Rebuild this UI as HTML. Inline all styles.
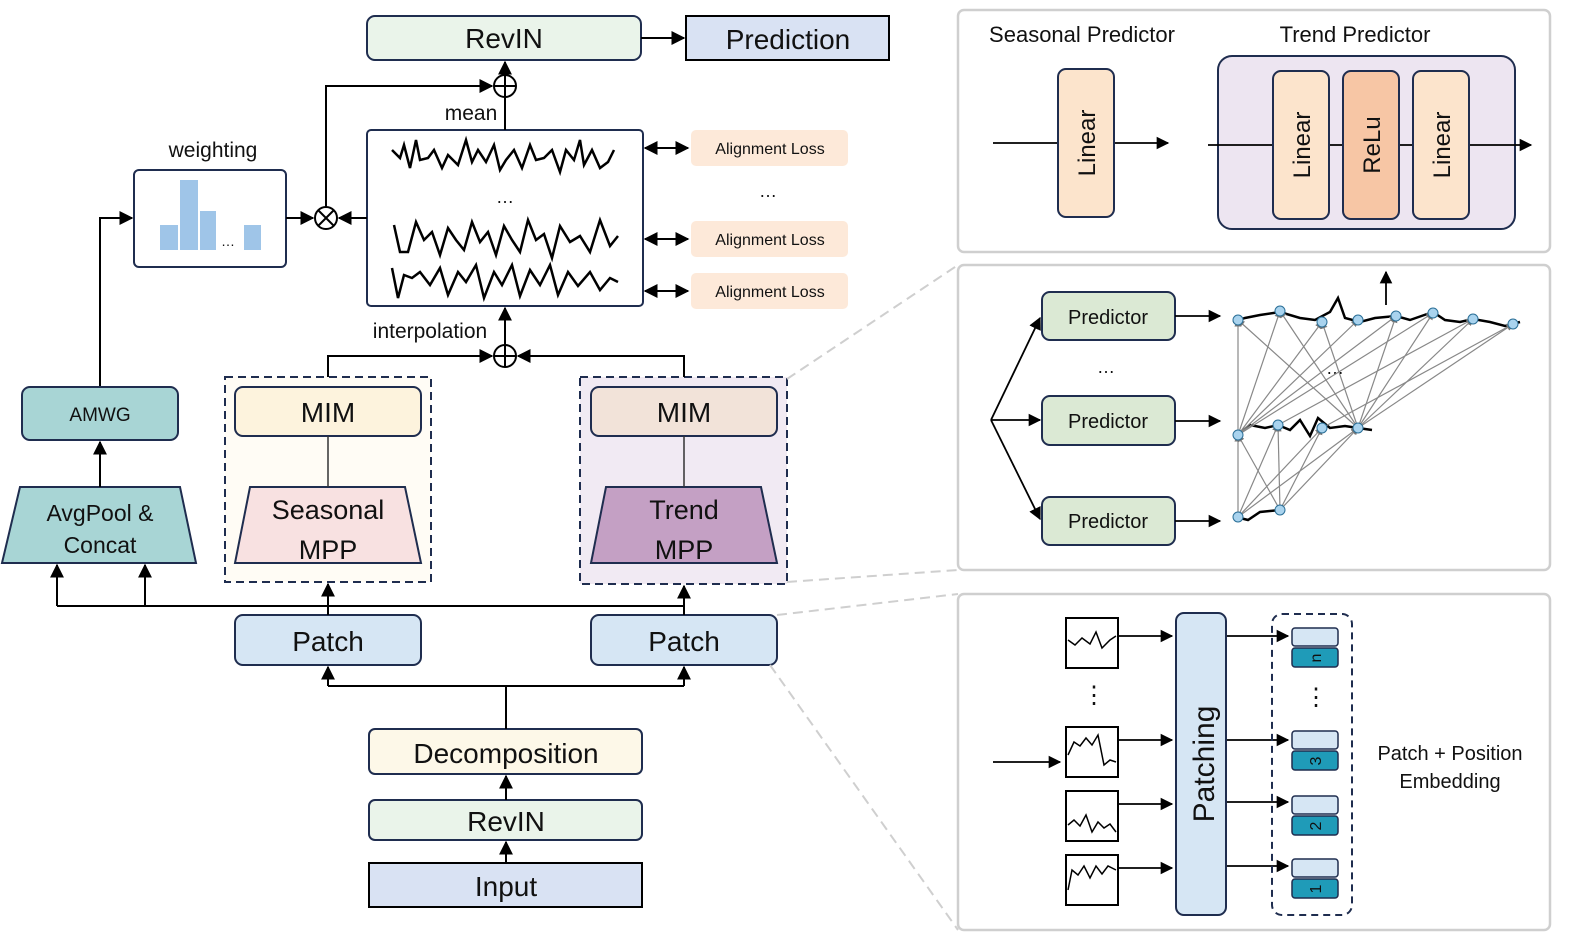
<!DOCTYPE html>
<html><head><meta charset="utf-8"><style>body{margin:0;background:#fff}svg{display:block}text{font-family:"Liberation Sans",sans-serif;fill:#111}</style></head><body>
<svg width="1578" height="949" viewBox="0 0 1578 949" xmlns="http://www.w3.org/2000/svg">
<defs>
<marker id="a" viewBox="0 0 10 10" refX="9" refY="5" markerWidth="7" markerHeight="7" orient="auto-start-reverse"><path d="M0,0L10,5L0,10z" fill="#000"/></marker>
<marker id="g" viewBox="0 0 10 10" refX="9" refY="5" markerWidth="6" markerHeight="6" orient="auto"><path d="M0,0L10,5L0,10z" fill="#777"/></marker>
</defs>
<g stroke="#1f2d4f" stroke-width="2">
<rect x="367" y="16" width="274" height="44" rx="8" fill="#eaf4ea"/>
<rect x="686" y="16" width="203" height="44" fill="#d9e2f3" stroke="#000"/>
<rect x="367" y="130" width="276" height="176" rx="4" fill="#fff"/>
<rect x="134" y="170" width="152" height="97" rx="5" fill="#fff"/>
<rect x="22" y="387" width="156" height="53" rx="8" fill="#a8d5d5"/>
<polygon points="20,487 180,487 196,563 2,563" fill="#a8d5d5"/>
<rect x="225" y="377" width="206" height="205" fill="#fffcf5" stroke-dasharray="8,5"/>
<rect x="580" y="377" width="207" height="207" fill="#f1eaf3" stroke-dasharray="8,5"/>
<rect x="235" y="387" width="186" height="49" rx="8" fill="#fdf3dd"/>
<rect x="591" y="387" width="186" height="49" rx="8" fill="#f2e3d9"/>
<polygon points="250,487 405,487 421,563 235,563" fill="#f8e1e1"/>
<polygon points="606,487 761,487 777,563 591,563" fill="#c4a0c4"/>
<rect x="235" y="615" width="186" height="50" rx="8" fill="#d6e6f4"/>
<rect x="591" y="615" width="186" height="50" rx="8" fill="#d6e6f4"/>
<rect x="369" y="729" width="273" height="45" rx="6" fill="#fdf8e8"/>
<rect x="369" y="800" width="273" height="40" rx="6" fill="#eaf4ea"/>
<rect x="369" y="863" width="273" height="44" fill="#d9e2f3" stroke="#000"/>
</g>
<g fill="#fde9d9"><rect x="691" y="130" width="157" height="36" rx="5"/><rect x="691" y="221" width="157" height="36" rx="5"/><rect x="691" y="273" width="157" height="36" rx="5"/></g>
<g fill="#9fc5e8"><rect x="160" y="225" width="18" height="25"/><rect x="180" y="180" width="18" height="70"/><rect x="200" y="211" width="16" height="39"/><rect x="244" y="225" width="17" height="25"/></g>
<g stroke="#000" stroke-width="2" fill="none">
<line x1="641" y1="38" x2="684" y2="38" marker-end="url(#a)"/>
<line x1="505" y1="130" x2="505" y2="97"/><line x1="505" y1="75" x2="505" y2="62" marker-end="url(#a)"/>
<polyline points="326,207 326,86 492,86" marker-end="url(#a)"/>
<circle cx="505" cy="86" r="11" fill="#fff"/><path d="M494,86H516M505,75V97"/>
<circle cx="326" cy="218" r="11" fill="#fff"/><path d="M318,210L334,226M334,210L318,226"/>
<line x1="286" y1="218" x2="313" y2="218" marker-end="url(#a)"/>
<line x1="367" y1="218" x2="339" y2="218" marker-end="url(#a)"/>
<polyline points="100,386 100,218 132,218" marker-end="url(#a)"/>
<line x1="100" y1="487" x2="100" y2="442" marker-end="url(#a)"/>
<line x1="645" y1="148" x2="688" y2="148" marker-start="url(#a)" marker-end="url(#a)"/>
<line x1="645" y1="239" x2="688" y2="239" marker-start="url(#a)" marker-end="url(#a)"/>
<line x1="645" y1="291" x2="688" y2="291" marker-start="url(#a)" marker-end="url(#a)"/>
<line x1="328" y1="436" x2="328" y2="487" stroke="#333" stroke-width="1.5"/>
<line x1="684" y1="436" x2="684" y2="487" stroke="#333" stroke-width="1.5"/>
<polyline points="328,377 328,356 492,356" marker-end="url(#a)"/>
<polyline points="684,377 684,356 518,356" marker-end="url(#a)"/>
<circle cx="505" cy="356" r="11" fill="#fff"/><path d="M494,356H516M505,345V367"/>
<line x1="505" y1="345" x2="505" y2="308" marker-end="url(#a)"/>
<line x1="57" y1="606" x2="684" y2="606"/>
<line x1="57" y1="606" x2="57" y2="565" marker-end="url(#a)"/>
<line x1="145" y1="606" x2="145" y2="565" marker-end="url(#a)"/>
<line x1="328" y1="615" x2="328" y2="584" marker-end="url(#a)"/>
<line x1="684" y1="615" x2="684" y2="586" marker-end="url(#a)"/>
<line x1="506" y1="729" x2="506" y2="686"/>
<polyline points="328,686 684,686"/>
<line x1="328" y1="686" x2="328" y2="667" marker-end="url(#a)"/>
<line x1="684" y1="686" x2="684" y2="667" marker-end="url(#a)"/>
<line x1="506" y1="800" x2="506" y2="776" marker-end="url(#a)"/>
<line x1="506" y1="863" x2="506" y2="842" marker-end="url(#a)"/>
<g stroke-width="2.5">
<polyline points="392,150 400,158 404,145 410,168 416,140 420,160 428,158 434,150 442,168 448,155 458,165 466,140 472,162 478,150 486,162 494,145 500,170 506,160 514,150 522,168 530,145 536,160 544,158 552,150 560,172 566,150 574,160 580,140 584,165 592,150 600,168 608,162 614,150"/>
<polyline points="394,225 400,252 408,252 416,222 424,240 432,232 440,255 448,228 456,240 464,250 472,222 480,242 488,232 496,255 504,226 512,240 520,252 528,220 536,240 544,234 552,258 560,226 570,242 580,236 590,252 600,220 610,246 618,236"/>
<polyline points="392,268 398,298 404,275 412,278 420,272 430,285 440,268 448,295 458,272 466,282 476,265 484,298 494,272 502,285 512,265 520,296 530,270 540,285 550,265 558,295 568,272 578,286 590,272 600,290 610,278 618,282"/>
</g>
</g>
<g font-size="28" text-anchor="middle">
<text x="504" y="48">RevIN</text><text x="788" y="49">Prediction</text>
<text x="328" y="422">MIM</text><text x="684" y="422">MIM</text>
<text x="328" y="519" font-size="27">Seasonal</text><text x="328" y="559" font-size="27">MPP</text>
<text x="684" y="519" font-size="27">Trend</text><text x="684" y="559" font-size="27">MPP</text>
<text x="328" y="651">Patch</text><text x="684" y="651">Patch</text>
<text x="506" y="763">Decomposition</text><text x="506" y="831">RevIN</text><text x="506" y="896">Input</text>
<text x="100" y="521" font-size="23">AvgPool &amp;</text><text x="100" y="553" font-size="23">Concat</text>
<text x="100" y="421" font-size="19">AMWG</text>
<text x="213" y="157" font-size="21">weighting</text>
<text x="471" y="120" font-size="21">mean</text>
<text x="430" y="338" font-size="21">interpolation</text>
<text x="770" y="154" font-size="16">Alignment Loss</text><text x="770" y="245" font-size="16">Alignment Loss</text><text x="770" y="297" font-size="16">Alignment Loss</text>
<text x="768" y="197" font-size="18">…</text><text x="505" y="203" font-size="18">…</text><text x="228" y="246" font-size="14">…</text>
</g>
<!-- right panels -->
<g stroke="#cfcfcf" stroke-width="2.5" fill="none">
<rect x="958" y="10" width="592" height="242" rx="6"/>
<rect x="958" y="265" width="592" height="305" rx="6"/>
<rect x="958" y="594" width="592" height="336" rx="6"/>
<g stroke-dasharray="10,6" stroke-width="2"><line x1="787" y1="379" x2="958" y2="265"/><line x1="787" y1="582" x2="958" y2="570"/><line x1="777" y1="615" x2="958" y2="594"/><line x1="770" y1="665" x2="958" y2="930"/></g>
</g>
<g font-size="22" text-anchor="middle"><text x="1082" y="42">Seasonal Predictor</text><text x="1355" y="42">Trend Predictor</text></g>
<rect x="1218" y="56" width="297" height="173" rx="14" fill="#ede5f1" stroke="#1f2d4f" stroke-width="2"/>
<g stroke="#000" stroke-width="1.8" fill="none"><line x1="993" y1="143" x2="1168" y2="143" marker-end="url(#a)"/><line x1="1208" y1="145" x2="1531" y2="145" marker-end="url(#a)"/></g>
<g stroke="#1f2d4f" stroke-width="2"><rect x="1058" y="69" width="56" height="148" rx="8" fill="#fce4cc"/><rect x="1273" y="71" width="56" height="148" rx="8" fill="#fce4cc"/><rect x="1343" y="71" width="56" height="148" rx="8" fill="#f7c6a5"/><rect x="1413" y="71" width="56" height="148" rx="8" fill="#fce4cc"/></g>
<g font-size="24" text-anchor="middle"><text transform="translate(1095,143) rotate(-90)">Linear</text><text transform="translate(1310,145) rotate(-90)">Linear</text><text transform="translate(1380,145) rotate(-90)">ReLu</text><text transform="translate(1450,145) rotate(-90)">Linear</text></g>
<g stroke="#1f2d4f" stroke-width="2" fill="#dbe9d4"><rect x="1042" y="292" width="133" height="48" rx="8"/><rect x="1042" y="396" width="133" height="49" rx="8"/><rect x="1042" y="497" width="133" height="48" rx="8"/></g>
<g font-size="20" text-anchor="middle"><text x="1108" y="324">Predictor</text><text x="1108" y="428">Predictor</text><text x="1108" y="528">Predictor</text><text x="1106" y="373" font-size="18">…</text><text x="1335" y="374" font-size="18">…</text></g>
<g stroke="#000" stroke-width="1.8" fill="none">
<line x1="991" y1="420" x2="1040" y2="318" marker-end="url(#a)"/><line x1="991" y1="420" x2="1040" y2="420" marker-end="url(#a)"/><line x1="991" y1="420" x2="1040" y2="519" marker-end="url(#a)"/>
<line x1="1175" y1="316" x2="1220" y2="316" marker-end="url(#a)"/><line x1="1175" y1="421" x2="1220" y2="421" marker-end="url(#a)"/><line x1="1175" y1="521" x2="1220" y2="521" marker-end="url(#a)"/>
<line x1="1386" y1="305" x2="1386" y2="272" marker-end="url(#a)"/>
<g stroke-width="2.5"><polyline points="1233,322 1245,318 1260,315 1280,312 1300,318 1315,320 1330,312 1338,298 1345,318 1360,322 1375,318 1396,316 1410,320 1433,312 1445,320 1460,322 1473,319 1490,322 1505,326 1520,322"/>
<polyline points="1236,436 1250,425 1265,428 1278,425 1290,430 1300,420 1310,436 1318,418 1330,428 1345,426 1358,428 1372,430"/>
<polyline points="1236,517 1248,520 1260,512 1280,510"/></g>
</g>
<g stroke="#888" stroke-width="1.2">
<line x1="1238" y1="435" x2="1238" y2="320" marker-end="url(#g)"/><line x1="1238" y1="435" x2="1280" y2="311" marker-end="url(#g)"/><line x1="1238" y1="435" x2="1322" y2="322" marker-end="url(#g)"/><line x1="1238" y1="435" x2="1358" y2="320" marker-end="url(#g)"/><line x1="1238" y1="435" x2="1396" y2="316" marker-end="url(#g)"/><line x1="1238" y1="435" x2="1433" y2="313" marker-end="url(#g)"/>
<line x1="1358" y1="428" x2="1238" y2="320" marker-end="url(#g)"/><line x1="1358" y1="428" x2="1280" y2="311" marker-end="url(#g)"/><line x1="1358" y1="428" x2="1322" y2="322" marker-end="url(#g)"/><line x1="1358" y1="428" x2="1396" y2="316" marker-end="url(#g)"/><line x1="1358" y1="428" x2="1433" y2="313" marker-end="url(#g)"/><line x1="1358" y1="428" x2="1473" y2="319" marker-end="url(#g)"/><line x1="1358" y1="428" x2="1513" y2="324" marker-end="url(#g)"/>
<line x1="1278" y1="425" x2="1473" y2="319" marker-end="url(#g)"/><line x1="1322" y1="428" x2="1513" y2="324" marker-end="url(#g)"/>
<line x1="1238" y1="517" x2="1238" y2="435" marker-end="url(#g)"/><line x1="1238" y1="517" x2="1278" y2="425" marker-end="url(#g)"/><line x1="1238" y1="517" x2="1322" y2="428" marker-end="url(#g)"/><line x1="1238" y1="517" x2="1358" y2="428" marker-end="url(#g)"/>
<line x1="1280" y1="510" x2="1238" y2="435" marker-end="url(#g)"/><line x1="1280" y1="510" x2="1278" y2="425" marker-end="url(#g)"/><line x1="1280" y1="510" x2="1322" y2="428" marker-end="url(#g)"/><line x1="1280" y1="510" x2="1358" y2="428" marker-end="url(#g)"/>
</g>
<g fill="#a9d3ee" stroke="#2a6f97" stroke-width="1"><circle cx="1238" cy="320" r="5"/><circle cx="1280" cy="311" r="5"/><circle cx="1322" cy="322" r="5"/><circle cx="1358" cy="320" r="5"/><circle cx="1396" cy="316" r="5"/><circle cx="1433" cy="313" r="5"/><circle cx="1473" cy="319" r="5"/><circle cx="1513" cy="324" r="5"/><circle cx="1238" cy="435" r="5"/><circle cx="1278" cy="425" r="5"/><circle cx="1322" cy="428" r="5"/><circle cx="1358" cy="428" r="5"/><circle cx="1238" cy="517" r="5"/><circle cx="1280" cy="510" r="5"/></g>
<!-- panel 3 -->
<g stroke="#000" stroke-width="2" fill="#fff"><rect x="1066" y="618" width="52" height="50"/><rect x="1066" y="727" width="52" height="50"/><rect x="1066" y="791" width="52" height="50"/><rect x="1066" y="855" width="52" height="50"/></g>
<g stroke="#000" stroke-width="1.5" fill="none">
<polyline points="1068,640 1075,645 1082,638 1090,644 1096,632 1102,648 1110,640 1116,636"/>
<polyline points="1068,755 1074,742 1080,746 1086,738 1092,745 1098,735 1104,765 1110,760 1116,762"/>
<polyline points="1068,825 1074,820 1080,826 1086,815 1092,832 1098,822 1104,828 1110,824 1116,832"/>
<polyline points="1068,890 1072,870 1078,875 1084,866 1090,878 1096,866 1102,874 1108,866 1116,870"/>
<g stroke-width="1.8"><line x1="993" y1="762" x2="1060" y2="762" marker-end="url(#a)"/>
<line x1="1118" y1="636" x2="1172" y2="636" marker-end="url(#a)"/><line x1="1118" y1="740" x2="1172" y2="740" marker-end="url(#a)"/><line x1="1118" y1="804" x2="1172" y2="804" marker-end="url(#a)"/><line x1="1118" y1="868" x2="1172" y2="868" marker-end="url(#a)"/>
<line x1="1226" y1="636" x2="1288" y2="636" marker-end="url(#a)"/><line x1="1226" y1="740" x2="1288" y2="740" marker-end="url(#a)"/><line x1="1226" y1="802" x2="1288" y2="802" marker-end="url(#a)"/><line x1="1226" y1="866" x2="1288" y2="866" marker-end="url(#a)"/></g>
</g>
<rect x="1176" y="613" width="50" height="302" rx="8" fill="#d6e6f4" stroke="#1f2d4f" stroke-width="2"/>
<text transform="translate(1214,764) rotate(-90)" font-size="30" text-anchor="middle">Patching</text>
<rect x="1272" y="614" width="80" height="301" rx="10" fill="none" stroke="#1f2d4f" stroke-width="2" stroke-dasharray="7,5"/>
<g stroke="#1f2d4f" stroke-width="1.5"><rect x="1292" y="628" width="46" height="18" rx="3" fill="#d6e6f4"/><rect x="1292" y="648" width="46" height="19" rx="3" fill="#1f9bb8"/><rect x="1292" y="731" width="46" height="18" rx="3" fill="#d6e6f4"/><rect x="1292" y="751" width="46" height="19" rx="3" fill="#1f9bb8"/><rect x="1292" y="796" width="46" height="18" rx="3" fill="#d6e6f4"/><rect x="1292" y="816" width="46" height="19" rx="3" fill="#1f9bb8"/><rect x="1292" y="859" width="46" height="18" rx="3" fill="#d6e6f4"/><rect x="1292" y="879" width="46" height="19" rx="3" fill="#1f9bb8"/></g>
<g font-size="16" text-anchor="middle"><text transform="translate(1321,658) rotate(-90)">n</text><text transform="translate(1321,761) rotate(-90)">3</text><text transform="translate(1321,826) rotate(-90)">2</text><text transform="translate(1321,889) rotate(-90)">1</text></g>
<g font-size="24" text-anchor="middle"><text x="1094" y="703">⋮</text><text x="1316" y="705">⋮</text></g>
<g font-size="20" text-anchor="middle"><text x="1450" y="760">Patch + Position</text><text x="1450" y="788">Embedding</text></g>
</svg>
</body></html>
